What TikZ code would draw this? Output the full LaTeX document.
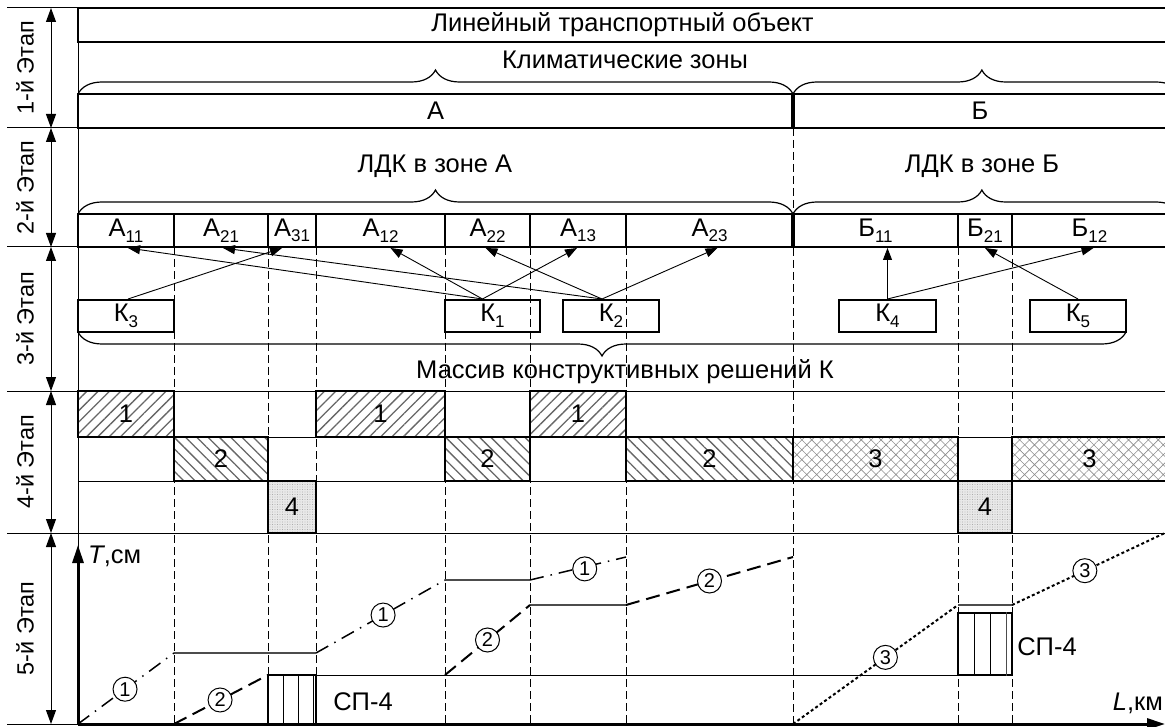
\documentclass[tikz,border=0pt]{standalone}
\usepackage{fontspec}
\setmainfont{Liberation Sans}
\usetikzlibrary{arrows.meta,decorations.pathreplacing,patterns.meta,calc}
\newcommand\sbs[1]{\raisebox{-0.22em}{\fontsize{17}{17}\selectfont #1}}
\begin{document}
\begin{tikzpicture}[x=1pt,y=-1pt,
  every node/.style={font=\fontsize{25.5}{30}\selectfont, inner sep=0pt},
  thinln/.style={line width=1pt},
  gridln/.style={line width=1pt, dash pattern=on 8pt off 4pt},
  bx/.style={draw, solid, line width=2pt},
  cellbox/.style={bx, minimum height=33pt, minimum width=#1},
  kbox/.style={bx, minimum height=32pt, minimum width=#1},
  brc/.style={decorate, decoration={brace, amplitude=24pt, aspect=#1}, line width=1.2pt},
  stagelbl/.style={rotate=90, font=\fontsize{23.5}{28}\selectfont},
  stagearr/.style={line width=1pt, {Triangle[length=14pt,width=10pt]}-{Triangle[length=14pt,width=10pt]}},
  karr/.style={line width=0.9pt, -{Triangle[length=12pt,width=9pt]}},
  hone/.style={bx, minimum height=46pt, minimum width=#1, pattern={Lines[angle=45,distance=8pt,line width=1.3pt]}, pattern color=black!60},
  htwo/.style={bx, minimum height=44pt, minimum width=#1, pattern={Lines[angle=-45,distance=8pt,line width=1.3pt]}, pattern color=black!60},
  hthree/.style={bx, minimum height=44pt, minimum width=#1, pattern={Hatch[angle=45,distance=7pt,line width=0.6pt]}, pattern color=black!45},
  hfour/.style={bx, minimum height=52pt, minimum width=#1, preaction={fill=gray!18}, pattern={Dots[distance=2.5pt,radius=0.45pt]}, pattern color=black!45},
  cone/.style={line width=1.5pt, dash pattern=on 14pt off 7pt on 1.5pt off 7pt},
  ctwo/.style={line width=2pt, dash pattern=on 14pt off 7pt},
  cthree/.style={line width=2pt, dash pattern=on 3pt off 2.5pt},
  hstep/.style={line width=1.2pt, black!70},
  circ/.style={circle, draw, solid, line width=1pt, fill=white, minimum size=24pt, inner sep=0pt, font=\fontsize{20}{20}\selectfont},
  axis/.style={line width=3pt, -{Triangle[length=18pt,width=11pt]}}
]
\useasboundingbox (0,0) rectangle (1165,727);

% dashed grid lines
\foreach \x in {174,268,316,445,530,626,958,1012} \draw[gridln] (\x,247) -- (\x,724);
\draw[gridln] (793,128) -- (793,724);

% stage dividers and frame
\draw[thinln] (7,8) -- (78,8);
\draw[thinln] (7,128) -- (1167,128);
\draw[thinln] (7,247) -- (1167,247);
\draw[thinln] (7,391) -- (1167,391);
\draw[thinln] (7,533) -- (1167,533);
\draw[thinln] (7,724) -- (78,724);
\draw[thinln] (78,8) -- (78,724);
\draw[thinln] (78,437) -- (1167,437);
\draw[thinln] (78,481) -- (1167,481);

% stage labels
\node[stagelbl] (s1) at (25,68) {1-й Этап};
\node[stagelbl] (s2) at (25,187.5) {2-й Этап};
\node[stagelbl] (s3) at (25,319) {3-й Этап};
\node[stagelbl] (s4) at (25,462) {4-й Этап};
\node[stagelbl] (s5) at (25,628.5) {5-й Этап};
\draw[stagearr] (51,8) -- (51,128);
\draw[stagearr] (51,128) -- (51,247);
\draw[stagearr] (51,247) -- (51,391);
\draw[stagearr] (51,391) -- (51,533);
\draw[stagearr] (51,533) -- (51,724);

% stage 1
\node[bx, minimum width=1089pt, minimum height=34pt] (lto) at (622.5,25) {Линейный транспортный объект};
\node (kz) at (625,60) {Климатические зоны};
\draw[brc=0.5] (78,94) -- (793,94);
\draw[brc=0.488] (793,94) -- (1180,94);
\node[bx, minimum width=715pt, minimum height=34pt] (zA) at (435.5,111) {А};
\node[bx, minimum width=374pt, minimum height=34pt] (zB) at (980,111) {Б};
\draw[line width=4pt] (793,94) -- (793,128);

% stage 2
\node (ldkA) at (435,166) {ЛДК в зоне А};
\node (ldkB) at (982,166) {ЛДК в зоне Б};
\draw[brc=0.5] (78,214) -- (793,214);
\draw[brc=0.488] (793,214) -- (1180,214);
\node[cellbox=96pt] (A11) at (126,230.5) {А\sbs{11}};
\node[cellbox=94pt] (A21) at (221,230.5) {А\sbs{21}};
\node[cellbox=48pt] (A31) at (292,230.5) {А\sbs{31}};
\node[cellbox=129pt] (A12) at (380.5,230.5) {А\sbs{12}};
\node[cellbox=85pt] (A22) at (487.5,230.5) {А\sbs{22}};
\node[cellbox=96pt] (A13) at (578,230.5) {А\sbs{13}};
\node[cellbox=167pt] (A23) at (709.5,230.5) {А\sbs{23}};
\node[cellbox=165pt] (B11) at (875.5,230.5) {Б\sbs{11}};
\node[cellbox=54pt] (B21) at (985,230.5) {Б\sbs{21}};
\node[cellbox=155pt] (B12) at (1089.5,230.5) {Б\sbs{12}};
\draw[line width=4pt] (793,214) -- (793,247);

% stage 3
\node[kbox=96pt] (K3) at (126,316) {К\sbs{3}};
\node[kbox=95pt] (K1) at (492.5,316) {К\sbs{1}};
\node[kbox=96pt] (K2) at (611,316) {К\sbs{2}};
\node[kbox=97pt] (K4) at (887.5,316) {К\sbs{4}};
\node[kbox=96pt] (K5) at (1078,316) {К\sbs{5}};
\draw[karr] ($(K3.north)+(2,0)$) -- ($(A31.south)+(-10,0)$);
\draw[karr] ($(K1.north)+(-10,0)$) -- ($(A11.south)+(2,0)$);
\draw[karr] ($(K1.north)+(-10,0)$) -- ($(A12.south)+(10,0)$);
\draw[karr] ($(K1.north)+(-10,0)$) -- ($(A13.south)+(-1,0)$);
\draw[karr] ($(K2.north)+(-9,0)$) -- ($(A21.south)+(2,0)$);
\draw[karr] ($(K2.north)+(-9,0)$) -- ($(A22.south)+(-2,0)$);
\draw[karr] ($(K2.north)+(-9,0)$) -- ($(A23.south)+(8,0)$);
\draw[karr] (K4.north) -- (K4.north |- B11.south);
\draw[karr] (K4.north) -- ($(B12.south)+(4,0)$);
\draw[karr] (K5.north) -- (B21.south);
\draw[brc=0.5] (1126,332) -- (78,332);
\node (mass) at (625,372) {Массив конструктивных решений К};

% stage 4
\node[hone=96pt] (p1a) at (126,414) {1};
\node[hone=129pt] (p1b) at (380.5,414) {1};
\node[hone=96pt] (p1c) at (578,414) {1};
\node[htwo=94pt] (p2a) at (221,459) {2};
\node[htwo=85pt] (p2b) at (487.5,459) {2};
\node[htwo=167pt] (p2c) at (709.5,459) {2};
\node[hthree=165pt] (p3a) at (875.5,459) {3};
\node[hthree=155pt] (p3b) at (1089.5,459) {3};
\node[hfour=48pt] (p4a) at (292,507) {4};
\node[hfour=54pt] (p4b) at (985,507) {4};

% stage 5
\coordinate (p10) at (78,724);
\coordinate (p11) at (174,653);
\coordinate (p12) at (316,653);
\coordinate (p13) at (445,580);
\coordinate (p14) at (530,580);
\coordinate (p15) at (626,557);
\coordinate (p20) at (174,724);
\coordinate (p21) at (268,675);
\coordinate (p22) at (445,675);
\coordinate (p23) at (530,605);
\coordinate (p24) at (626,605);
\coordinate (p25) at (793,557);
\coordinate (p30) at (793,724);
\coordinate (p31) at (958,605);
\coordinate (p32) at (1012,605);
\coordinate (p33) at (1167,532);
\coordinate (q1) at (316,675);
\coordinate (q2) at (958,675);

\draw[hstep] (p11) -- (p12);
\draw[hstep] (p13) -- (p14);
\draw[hstep] (p23) -- (p24);
\draw[hstep] (p31) -- (p32);
\draw[thinln] (q1) -- (q2);

\node[bx, minimum width=48pt, minimum height=49pt] (sp1) at (292,699.5) {};
\draw[thinln] ($(sp1.north)+(-9,0)$) -- ($(sp1.south)+(-9,0)$);
\draw[thinln] ($(sp1.north)+(6,0)$) -- ($(sp1.south)+(6,0)$);
\draw[thinln] ($(sp1.north)+(21,0)$) -- ($(sp1.south)+(21,0)$);
\node (sp1t) at (363,702) {СП-4};
\node[bx, minimum width=54pt, minimum height=62pt] (sp2) at (985,644) {};
\draw[thinln] ($(sp2.north)+(-11,0)$) -- ($(sp2.south)+(-11,0)$);
\draw[thinln] ($(sp2.north)+(5,0)$) -- ($(sp2.south)+(5,0)$);
\draw[thinln, black!70] ($(sp2.north)+(21,0)$) -- ($(sp2.south)+(21,0)$);
\node (sp2t) at (1047,647) {СП-4};

\draw[cone] (p10) -- node[circ, pos=0.49] (c1a) {1} (p11);
\draw[cone] (p12) -- node[circ, pos=0.52] (c1b) {1} (p13);
\draw[cone] (p14) -- node[circ, pos=0.57, yshift=-2pt] (c1c) {1} (p15);
\draw[ctwo] (p20) -- node[circ, pos=0.49] (c2a) {2} (p21);
\draw[ctwo] (p22) -- node[circ, pos=0.5] (c2b) {2} (p23);
\draw[ctwo] (p24) -- node[circ, pos=0.5] (c2c) {2} (p25);
\draw[cthree] (p30) -- node[circ, pos=0.56] (c3a) {3} (p31);
\draw[cthree] (p32) -- node[circ, pos=0.47] (c3b) {3} (p33);

\coordinate (o) at (78,724);
\coordinate (ty) at (78,545);
\coordinate (lx) at (1165,724);
\draw[axis] (o) -- (ty);
\draw[axis] (o) -- (lx);
\node[anchor=west] (tlab) at (88,556) {\textit{T},см};
\node[anchor=east] (llab) at (1163,703) {\textit{L},км};
\end{tikzpicture}
\end{document}
